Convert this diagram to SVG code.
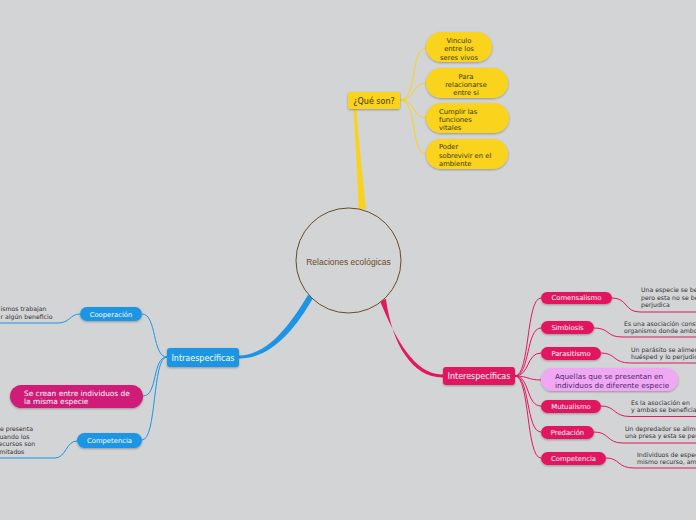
<svg xmlns="http://www.w3.org/2000/svg" width="696" height="520" viewBox="0 0 696 520">
<style>
.t{font-family:"DejaVu Sans",Verdana,sans-serif}
.yn{fill:#f9d31b}
.yt{fill:#3a3410;font-size:6.8px}
.bn{fill:#1d95e4}
.pn{fill:#e2195f}
.wt{fill:#ffffff;font-size:6.8px}
.note{fill:#333333;font-size:6.2px}
.yl{fill:none;stroke:#f9d31b;stroke-width:1}
.bl{fill:none;stroke:#1d95e4;stroke-width:1}
.pl{fill:none;stroke:#e2195f;stroke-width:1}
</style>
<defs>
<filter id="sh" x="-20%" y="-30%" width="140%" height="170%">
<feDropShadow dx="0" dy="1" stdDeviation="0.8" flood-color="#000" flood-opacity="0.3"/>
</filter>
</defs>
<rect width="696" height="520" fill="#d3d4d6"/>
<g id="connectors">
<path d="M358.5,209 C357.5,170 355,140 353.5,109 L356.5,109 C358.5,140 362,170 366,209 Z" fill="#f9d31b"/>
<path d="M308,295 C290,325 268,355 239,355.5 L239,358.5 C270,359 295,330 313,298 Z" fill="#1d95e4"/>
<path d="M380,301 C396,340 415,375 443,374.5 L443,377.5 C413,378 392,345 386,299 Z" fill="#e2195f"/>
<path class="yl" d="M400,100 C418,100 410,48 426,48"/>
<path class="yl" d="M400,100 C416,100 412,83 426,83"/>
<path class="yl" d="M400,100 C416,100 412,118 426,118"/>
<path class="yl" d="M400,100 C418,100 410,154 426,154"/>
<path class="bl" d="M167,357 C152,357 157,314 142,314"/>
<path class="bl" d="M167,357 C152,357 158,396 143,396"/>
<path class="bl" d="M167,357 C152,357 157,440 142,440"/>
<path class="bl" d="M80,314 C70,314 70,323 58,323 H0"/>
<path class="bl" d="M77,441 C66,441 66,458 55,458 H0"/>
<path class="pl" d="M515,376 C530,376 526,298 541,298"/>
<path class="pl" d="M515,376 C530,376 526,328 541,328"/>
<path class="pl" d="M515,376 C530,376 526,353 541,353"/>
<path class="pl" d="M515,376 C528,376 528,380 541,380"/>
<path class="pl" d="M515,376 C530,376 526,406 541,406"/>
<path class="pl" d="M515,376 C530,376 526,432 541,432"/>
<path class="pl" d="M515,376 C530,376 526,458 541,458"/>
<path class="pl" d="M612,298 C628,298 624,312 640,312 H696"/>
<path class="pl" d="M594,328 C610,328 606,337 622,337 H696"/>
<path class="pl" d="M601,353 C616,353 613,363 630,363 H696"/>
<path class="pl" d="M601,406 C616,406 613,416.5 630,416.5 H696"/>
<path class="pl" d="M594,432 C610,432 606,443 623,443 H696"/>
<path class="pl" d="M606,458 C620,458 617,468 634,468 H696"/>
</g>
<g id="center">
<circle cx="348.5" cy="260.5" r="52.5" fill="#d3d4d6" stroke="#6b4a2a" stroke-width="1"/>
<text x="348.5" y="264.5" text-anchor="middle" font-size="8.5" fill="#6b4a2a" font-family="'Liberation Sans',sans-serif">Relaciones ecológicas</text>
</g>
<g id="que-son">
<rect class="yn" x="348" y="92" width="52" height="17" rx="2" filter="url(#sh)"/>
<text class="t" x="374" y="103.5" text-anchor="middle" font-size="8" fill="#3a3410">¿Qué son?</text>
</g>
<g id="vinculo">
<rect class="yn" x="426" y="32" width="66" height="30" rx="15" filter="url(#sh)"/>
<text class="t yt" text-anchor="middle"><tspan x="459" y="42.5">Vinculo</tspan><tspan x="459" y="51">entre los</tspan><tspan x="459" y="59.5">seres vivos</tspan></text>
</g>
<g id="para">
<rect class="yn" x="426" y="68" width="82" height="30" rx="15" filter="url(#sh)"/>
<text class="t yt" text-anchor="middle"><tspan x="466" y="78.5">Para</tspan><tspan x="466" y="86.5">relacionarse</tspan><tspan x="466" y="94.5">entre si</tspan></text>
</g>
<g id="cumplir">
<rect class="yn" x="426" y="103" width="83" height="30" rx="15" filter="url(#sh)"/>
<text class="t yt"><tspan x="439" y="113.5">Cumplir las</tspan><tspan x="439" y="121.5">funciones</tspan><tspan x="439" y="129.5">vitales</tspan></text>
</g>
<g id="poder">
<rect class="yn" x="426" y="139" width="82" height="30" rx="15" filter="url(#sh)"/>
<text class="t yt"><tspan x="439" y="148.5">Poder</tspan><tspan x="439" y="157.5">sobrevivir en el</tspan><tspan x="439" y="165.5">ambiente</tspan></text>
</g>
<g id="intra">
<rect class="bn" x="167" y="348" width="72" height="19" rx="3" filter="url(#sh)"/>
<text class="t" x="203" y="360.5" text-anchor="middle" font-size="8" fill="#fff">Intraespecíficas</text>
</g>
<g id="cooperacion">
<rect class="bn" x="80" y="307" width="62" height="14" rx="7" filter="url(#sh)"/>
<text class="t wt" x="111" y="316.5" text-anchor="middle">Cooperación</text>
<text class="t note"><tspan x="0.5" y="310.5">ismos trabajan</tspan><tspan x="0.5" y="318.5">r algún beneficio</tspan></text>
</g>
<g id="se-crean">
<rect x="10" y="385" width="133" height="23" rx="11.5" fill="#d01b78" filter="url(#sh)"/>
<text class="t" font-size="7.4" fill="#fff"><tspan x="24" y="395.5">Se crean entre individuos de</tspan><tspan x="24" y="403.5">la misma especie</tspan></text>
</g>
<g id="competencia-intra">
<rect class="bn" x="77" y="433" width="65" height="15" rx="7.5" filter="url(#sh)"/>
<text class="t wt" x="109.5" y="443" text-anchor="middle">Competencia</text>
<text class="t note"><tspan x="-4" y="431">Se presenta</tspan><tspan x="-4" y="438.5">cuando los</tspan><tspan x="-4" y="446">recursos son</tspan><tspan x="-4" y="453.5">limitados</tspan></text>
</g>
<g id="inter">
<rect class="pn" x="443" y="367" width="72" height="18" rx="3" filter="url(#sh)"/>
<text class="t" x="479" y="379" text-anchor="middle" font-size="8" fill="#fff">Interespecíficas</text>
</g>
<g id="comensalismo">
<rect class="pn" x="541" y="292" width="71" height="12" rx="6" filter="url(#sh)"/>
<text class="t wt" x="576.5" y="300.4" text-anchor="middle">Comensalismo</text>
<text class="t note"><tspan x="641" y="292">Una especie se be</tspan><tspan x="641" y="299.5">pero esta no se be</tspan><tspan x="641" y="307">perjudica</tspan></text>
</g>
<g id="simbiosis">
<rect class="pn" x="541" y="321" width="53" height="13" rx="6.5" filter="url(#sh)"/>
<text class="t wt" x="567.5" y="329.9" text-anchor="middle">Simbiosis</text>
<text class="t note"><tspan x="624" y="325.5">Es una asociación consta</tspan><tspan x="624" y="333">organismo donde ambos</tspan></text>
</g>
<g id="parasitismo">
<rect class="pn" x="541" y="347" width="60" height="13" rx="6.5" filter="url(#sh)"/>
<text class="t wt" x="571" y="355.9" text-anchor="middle">Parasitismo</text>
<text class="t note"><tspan x="631" y="351.5">Un parásito se alimen</tspan><tspan x="631" y="358.5">huésped y lo perjudic</tspan></text>
</g>
<g id="aquellas">
<rect x="541" y="368" width="137" height="23" rx="11.5" fill="#f0a8f5" filter="url(#sh)"/>
<text class="t" font-size="7.3" fill="#4e2a6a"><tspan x="555" y="378.5">Aquellas que se presentan en</tspan><tspan x="555" y="387.5">individuos de diferente especie</tspan></text>
</g>
<g id="mutualismo">
<rect class="pn" x="541" y="400" width="60" height="13" rx="6.5" filter="url(#sh)"/>
<text class="t wt" x="571" y="408.9" text-anchor="middle">Mutualismo</text>
<text class="t note"><tspan x="631" y="404.5">Es la asociación en</tspan><tspan x="631" y="412">y ambas se beneficiar</tspan></text>
</g>
<g id="predacion">
<rect class="pn" x="541" y="426" width="53" height="13" rx="6.5" filter="url(#sh)"/>
<text class="t wt" x="567.5" y="434.9" text-anchor="middle">Predación</text>
<text class="t note"><tspan x="625" y="431">Un depredador se alime</tspan><tspan x="625" y="438">una presa y esta se per</tspan></text>
</g>
<g id="competencia-inter">
<rect class="pn" x="541" y="452" width="65" height="13" rx="6.5" filter="url(#sh)"/>
<text class="t wt" x="573.5" y="460.9" text-anchor="middle">Competencia</text>
<text class="t note"><tspan x="637" y="457">Individuos de espec</tspan><tspan x="637" y="464">mismo recurso, amb</tspan></text>
</g>
</svg>
